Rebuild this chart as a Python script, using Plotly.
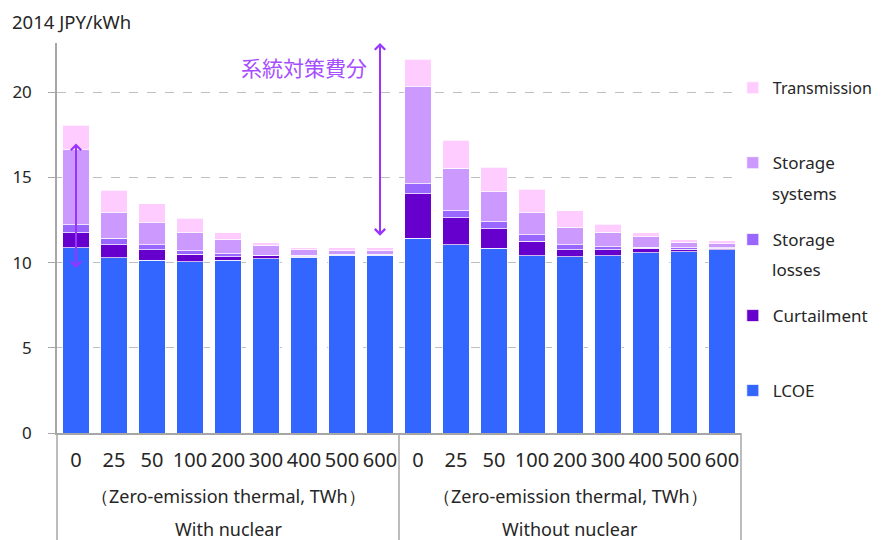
import plotly.graph_objects as go

# x categories (two groups of zero-emission thermal levels, TWh)
ticks = ["0", "25", "50", "100", "200", "300", "400", "500", "600"] * 2
x_pos = list(range(len(ticks)))

# stacked components, 2014 JPY/kWh (first 9: with nuclear, last 9: without nuclear)
lcoe = [10.88, 10.29, 10.14, 10.06, 10.14, 10.22, 10.33, 10.43, 10.45,
        11.43, 11.06, 10.86, 10.41, 10.35, 10.41, 10.59, 10.65, 10.76]
curtailment = [0.88, 0.77, 0.61, 0.43, 0.21, 0.21, 0.06, 0.03, 0.02,
               2.63, 1.57, 1.14, 0.84, 0.40, 0.34, 0.25, 0.13, 0.08]
storage_losses = [0.46, 0.39, 0.31, 0.20, 0.18, 0.02, 0.04, 0.03, 0.03,
                  0.59, 0.43, 0.41, 0.40, 0.31, 0.19, 0.08, 0.10, 0.04]
storage_systems = [4.41, 1.47, 1.29, 1.07, 0.82, 0.57, 0.32, 0.22, 0.21,
                   5.68, 2.49, 1.75, 1.27, 1.02, 0.84, 0.59, 0.32, 0.24]
transmission = [1.45, 1.33, 1.10, 0.85, 0.40, 0.14, 0.13, 0.17, 0.17,
                1.63, 1.65, 1.45, 1.39, 0.96, 0.47, 0.24, 0.15, 0.17]

# legend label is split over two lines in the original: first line in the legend,
# second line as a note underneath
series = [
    ("LCOE", "", lcoe, "#3366FF", "legend5", 0.108),
    ("Curtailment", "", curtailment, "#6600CC", "legend4", 0.300),
    ("Storage", "losses", storage_losses, "#9966FF", "legend3", 0.495),
    ("Storage", "systems", storage_systems, "#CC99FF", "legend2", 0.692),
    ("Transmission", "", transmission, "#FFCCFF", "legend", 0.885),
]

font_main = "Noto Sans, Open Sans, sans-serif"
text_col = "#262626"
leg_x = 0.988
line_gap = 30 / 390  # second legend line, in paper units

fig = go.Figure()
legends = {}
for name, line2, vals, col, leg, ly in series:
    fig.add_trace(go.Bar(
        name=name, x=x_pos, y=vals, marker_color=col,
        marker_line=dict(color="rgba(255,255,255,0.7)", width=1),
        legend=leg, showlegend=True,
        hovertemplate=(name + " " + line2).strip() + ": %{y}<extra></extra>",
    ))
    legends[leg] = dict(x=leg_x, y=ly, xanchor="left", yanchor="middle",
                        bgcolor="rgba(0,0,0,0)",
                        font=dict(size=16 if name == "Transmission" else 17,
                                  family=font_main, color=text_col),
                        itemwidth=30)
    if line2:
        fig.add_annotation(xref="paper", yref="paper", x=1.043, y=ly - line_gap,
                           xanchor="left", yanchor="middle", text=line2, showarrow=False,
                           font=dict(size=17, family=font_main, color=text_col))

arrow_col = "#9933FF"
fig.update_layout(
    width=874, height=532,
    margin=dict(l=49, r=141, t=35, b=107, autoexpand=False),
    plot_bgcolor="white", paper_bgcolor="white",
    barmode="stack", bargap=0.31, showlegend=True,
    font=dict(family=font_main, color=text_col),
    xaxis=dict(
        tickvals=x_pos, ticktext=ticks, range=[-0.5, len(ticks) - 0.5],
        showgrid=False, showline=True, linecolor="#A6A6A6", linewidth=1.5,
        ticks="", ticklabelstandoff=8,
        tickfont=dict(size=20, color=text_col),
    ),
    yaxis=dict(
        range=[0, 22.9], tickvals=[0, 5, 10, 15, 20],
        showgrid=True, gridcolor="#BFBFBF", griddash="dash", gridwidth=1,
        showline=True, linecolor="#A6A6A6", linewidth=1.5,
        ticks="outside", ticklen=7, tickcolor="#A6A6A6",
        ticklabelstandoff=13, zeroline=False,
        tickfont=dict(size=17, color=text_col),
    ),
    **legends,
)

# group separators below the axis
for xp in [0, 0.5, 1]:
    fig.add_shape(type="line", xref="paper", yref="paper", x0=xp, x1=xp,
                  y0=0, y1=-0.3, line=dict(color="#A6A6A6", width=1.5))

for xp, grp in [(0.25, "With nuclear"), (0.75, "Without nuclear")]:
    fig.add_annotation(xref="paper", yref="paper", x=xp, y=-0.1615,
                       xanchor="center", yanchor="middle",
                       text="（Zero-emission thermal, TWh）", showarrow=False,
                       font=dict(size=18, color=text_col))
    fig.add_annotation(xref="paper", yref="paper", x=xp, y=-0.246,
                       xanchor="center", yanchor="middle",
                       text=grp, showarrow=False, font=dict(size=18, color=text_col))

fig.add_annotation(xref="paper", yref="paper", x=-0.0687, y=1.054,
                   xanchor="left", yanchor="middle",
                   text="2014 JPY/kWh", showarrow=False,
                   font=dict(size=18.5, color=text_col))

# double-headed arrows marking grid integration costs
for xa, y_top, y_bot in [(0, 17.0, 9.6), (8, 22.9, 11.5)]:
    fig.add_annotation(x=xa, y=y_top, ax=xa, ay=y_bot, xref="x", yref="y",
                       axref="x", ayref="y", text="", showarrow=True,
                       arrowhead=4, startarrowhead=4, arrowside="end+start",
                       arrowwidth=2, arrowcolor=arrow_col)
fig.add_annotation(x=7.7, y=21.5, xref="x", yref="y", xanchor="right", yanchor="middle",
                   text="系統対策費分", showarrow=False,
                   font=dict(size=21, color="#A64DFF", family="Noto Sans CJK JP"))

fig.write_html("out.html")
